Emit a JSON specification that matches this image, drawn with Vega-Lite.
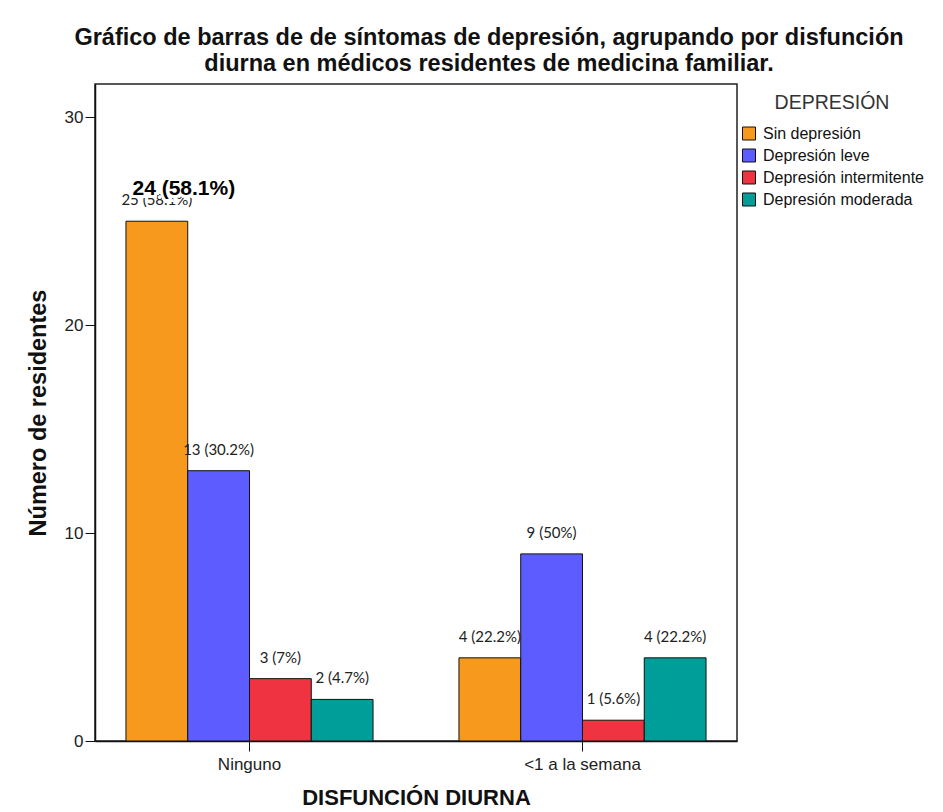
{
  "$schema": "https://vega.github.io/schema/vega-lite/v6.json",
  "width": 642,
  "height": 657,
  "autosize": {"type": "none"},
  "padding": {"left": 95, "top": 84, "right": 206, "bottom": 71},
  "background": "white",
  "config": {
    "view": {"stroke": "#222", "strokeWidth": 1.5},
    "font": "Liberation Sans"
  },
  "title": {
    "text": ["Gráfico de barras de de síntomas de depresión, agrupando por disfunción", "diurna en médicos residentes de medicina familiar."],
    "fontSize": 23.5,
    "fontWeight": "bold",
    "font": "Liberation Sans",
    "color": "#111",
    "anchor": "middle",
    "frame": "group",
    "dx": 73,
    "offset": 9,
    "lineHeight": 26
  },
  "data": {
    "values": [
      {"grupo": "Ninguno", "depresion": "Sin depresión", "n": 25, "etiqueta": "25 (58.1%)"},
      {"grupo": "Ninguno", "depresion": "Depresión leve", "n": 13, "etiqueta": "13 (30.2%)"},
      {"grupo": "Ninguno", "depresion": "Depresión intermitente", "n": 3, "etiqueta": "3 (7%)"},
      {"grupo": "Ninguno", "depresion": "Depresión moderada", "n": 2, "etiqueta": "2 (4.7%)"},
      {"grupo": "<1 a la semana", "depresion": "Sin depresión", "n": 4, "etiqueta": "4 (22.2%)"},
      {"grupo": "<1 a la semana", "depresion": "Depresión leve", "n": 9, "etiqueta": "9 (50%)"},
      {"grupo": "<1 a la semana", "depresion": "Depresión intermitente", "n": 1, "etiqueta": "1 (5.6%)"},
      {"grupo": "<1 a la semana", "depresion": "Depresión moderada", "n": 4, "etiqueta": "4 (22.2%)"}
    ]
  },
  "encoding": {
    "x": {
      "field": "grupo",
      "type": "nominal",
      "sort": ["Ninguno", "<1 a la semana"],
      "scale": {"domain": ["Ninguno", "<1 a la semana"], "paddingInner": 0.258, "paddingOuter": 0.093},
      "axis": {
        "title": "DISFUNCIÓN DIURNA",
        "titleFontSize": 22,
        "titleFontWeight": "bold",
        "titleColor": "#111",
        "titlePadding": 15,
        "labelAngle": 0,
        "labelFontSize": 17,
        "labelColor": "#222",
        "labelPadding": 5,
        "tickSize": 10,
        "tickColor": "#111",
        "domainColor": "#111",
        "domainWidth": 1.5,
        "grid": false
      }
    },
    "xOffset": {
      "field": "depresion",
      "type": "nominal",
      "sort": ["Sin depresión", "Depresión leve", "Depresión intermitente", "Depresión moderada"],
      "scale": {"domain": ["Sin depresión", "Depresión leve", "Depresión intermitente", "Depresión moderada"], "paddingInner": 0, "paddingOuter": 0}
    },
    "y": {
      "field": "n",
      "type": "quantitative",
      "scale": {"domain": [0, 31.6], "nice": false},
      "axis": {
        "title": "Número de residentes",
        "titleFontSize": 23.5,
        "titleFontWeight": "bold",
        "titleColor": "#111",
        "titlePadding": 14,
        "values": [0, 10, 20, 30],
        "labelFontSize": 17,
        "labelColor": "#222",
        "labelPadding": 2,
        "tickSize": 10,
        "tickColor": "#111",
        "domainColor": "#111",
        "domainWidth": 1.5,
        "grid": false
      }
    }
  },
  "layer": [
    {
      "mark": {"type": "bar", "stroke": "#111", "strokeWidth": 1, "opacity": 1},
      "encoding": {
        "color": {
          "field": "depresion",
          "type": "nominal",
          "sort": ["Sin depresión", "Depresión leve", "Depresión intermitente", "Depresión moderada"],
          "scale": {
            "domain": ["Sin depresión", "Depresión leve", "Depresión intermitente", "Depresión moderada"],
            "range": ["#F7991C", "#5C5CFF", "#EF3340", "#009E99"]
          },
          "legend": {
            "title": "DEPRESIÓN",
            "titleFontSize": 19.5,
            "titleFontWeight": "normal",
            "titleColor": "#333",
            "titleAnchor": "middle",
            "titlePadding": 12,
            "labelFontSize": 16,
            "labelColor": "#111",
            "labelOffset": 6,
            "labelLimit": 300,
            "symbolType": "square",
            "symbolSize": 169,
            "symbolStrokeColor": "#111",
            "symbolStrokeWidth": 1,
            "symbolOpacity": 1,
            "rowPadding": 4,
            "orient": "right",
            "offset": -6,
            "padding": 10
          }
        }
      }
    },
    {
      "mark": {"type": "text", "baseline": "middle", "align": "center", "dy": -21, "fontSize": 15, "font": "Lato", "color": "#222"},
      "encoding": {"text": {"field": "etiqueta"}}
    },
    {
      "data": {"values": [{"grupo": "Ninguno", "depresion": "Sin depresión", "n": 25, "nota": "24 (58.1%)"}]},
      "mark": {"type": "text", "baseline": "middle", "align": "center", "dy": -32, "dx": 27, "fontSize": 21, "fontWeight": "bold", "font": "Liberation Sans", "color": "white", "stroke": "white", "strokeWidth": 6},
      "encoding": {"text": {"field": "nota"}}
    },
    {
      "data": {"values": [{"grupo": "Ninguno", "depresion": "Sin depresión", "n": 25, "nota": "24 (58.1%)"}]},
      "mark": {"type": "text", "baseline": "middle", "align": "center", "dy": -32, "dx": 27, "fontSize": 21, "fontWeight": "bold", "font": "Liberation Sans", "color": "#000"},
      "encoding": {"text": {"field": "nota"}}
    }
  ]
}
